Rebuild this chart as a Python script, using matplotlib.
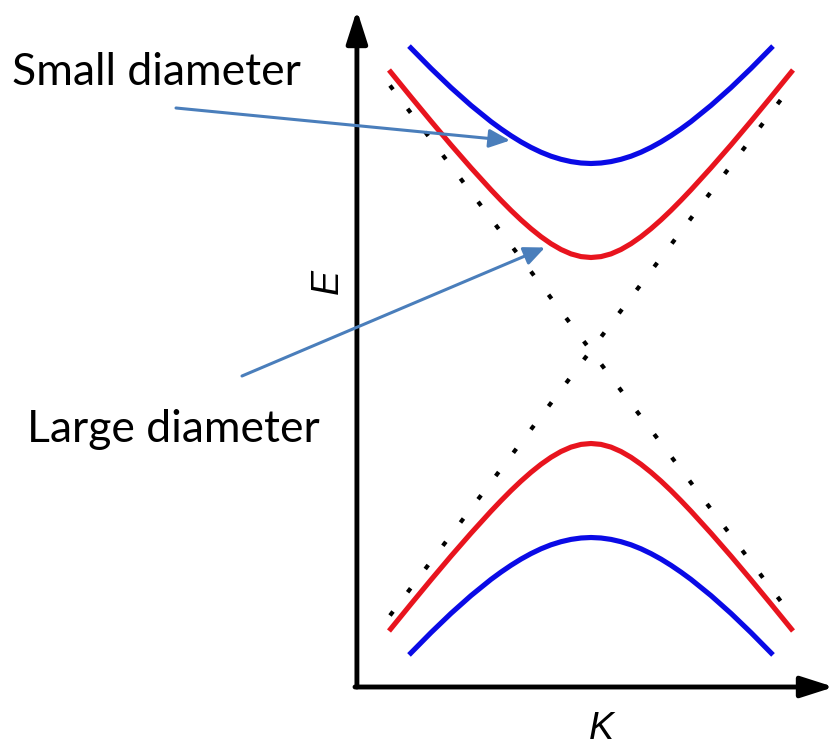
import matplotlib
matplotlib.use("Agg")
import matplotlib.pyplot as plt

# momentum points (k), symmetric about the band centre
k_red = [-2.02, -1.8, -1.6, -1.4, -1.2, -1.0, -0.9, -0.8, -0.7, -0.6, -0.5, -0.4,
         -0.3, -0.2, -0.1, 0.0, 0.1, 0.2, 0.3, 0.4, 0.5, 0.6, 0.7, 0.8, 0.9,
         1.0, 1.2, 1.4, 1.6, 1.8, 2.02]
e_red = [2.805, 2.535, 2.293, 2.056, 1.827, 1.607, 1.502, 1.401, 1.306, 1.218,
         1.138, 1.068, 1.010, 0.966, 0.939, 0.930, 0.939, 0.966, 1.010, 1.068,
         1.138, 1.218, 1.306, 1.401, 1.502, 1.607, 1.827, 2.056, 2.293, 2.535, 2.805]

k_blue = [-1.82, -1.6, -1.4, -1.2, -1.0, -0.9, -0.8, -0.7, -0.6, -0.5, -0.4, -0.3,
          -0.2, -0.1, 0.0, 0.1, 0.2, 0.3, 0.4, 0.5, 0.6, 0.7, 0.8, 0.9, 1.0,
          1.2, 1.4, 1.6, 1.82]
e_blue = [3.044, 2.821, 2.629, 2.451, 2.289, 2.216, 2.148, 2.086, 2.031, 1.983,
          1.943, 1.912, 1.889, 1.875, 1.870, 1.875, 1.889, 1.912, 1.943, 1.983,
          2.031, 2.086, 2.148, 2.216, 2.289, 2.451, 2.629, 2.821, 3.044]

# light-cone (dotted) lines: end points
k_cone = [-2.01, 1.93]
e_cone = [-2.65, 2.55]

labels = ["Small diameter", "Large diameter"]

fig = plt.figure(figsize=(8.34, 7.47), dpi=100)
ax = fig.add_axes([355 / 834, 60 / 747, 479 / 834, 677 / 747])
ax.set_xlim(-2.36, 2.43)
ax.set_ylim(-3.365, 3.405)
ax.axis("off")

red = "#e8141e"
blue = "#0a0ae6"

# dotted asymptotes
dots = (0, (1.2, 5.8))
ax.plot(k_cone, e_cone, color="black", lw=3.0, linestyle=dots)
ax.plot(k_cone, [-e for e in e_cone], color="black", lw=3.0, linestyle=dots)

# bands
band = dict(lw=3.7, solid_capstyle="butt", solid_joinstyle="round")
ax.plot(k_blue, e_blue, color=blue, **band)
ax.plot(k_red, e_red, color=red, **band)
ax.plot(k_red, [-e for e in e_red], color=red, **band)
ax.plot(k_blue, [-e for e in e_blue], color=blue, **band)

# axes with arrow heads
arrow = dict(arrowstyle="-|>,head_length=1.0,head_width=0.32", lw=3.5,
             color="black", mutation_scale=20, shrinkA=0, shrinkB=0)
ax.annotate("", xy=(0.004, 1.0), xytext=(0.004, 0.0), xycoords="axes fraction",
            arrowprops=arrow, annotation_clip=False)
ax.annotate("", xy=(1.0, 0.0), xytext=(0.0, 0.0), xycoords="axes fraction",
            arrowprops=arrow, annotation_clip=False)

fig.text(601 / 834, 1 - 729 / 747, "K", fontsize=27, style="italic",
         family="Liberation Sans", ha="center", va="center")
fig.text(328 / 834, 1 - 282 / 747, "E", fontsize=27, style="italic",
         family="Liberation Sans", ha="center", va="center", rotation=90)

# annotation labels and arrows
pointer = dict(arrowstyle="-|>,head_length=0.9,head_width=0.4", lw=2.2,
               color="#4a7ebb", mutation_scale=14, shrinkA=0, shrinkB=0)
fig.text(12, 662, labels[0], fontsize=32, family="Lato",
         transform=None, ha="left", va="baseline")
fig.text(27, 305, labels[1], fontsize=32, family="Lato",
         transform=None, ha="left", va="baseline")
ax.annotate("", xy=(-0.81, 2.10), xytext=(176, 639), textcoords="figure pixels",
            arrowprops=pointer)
ax.annotate("", xy=(-0.46, 1.03), xytext=(242, 371), textcoords="figure pixels",
            arrowprops=pointer)

fig.savefig("out.png", dpi=100, facecolor="white")
